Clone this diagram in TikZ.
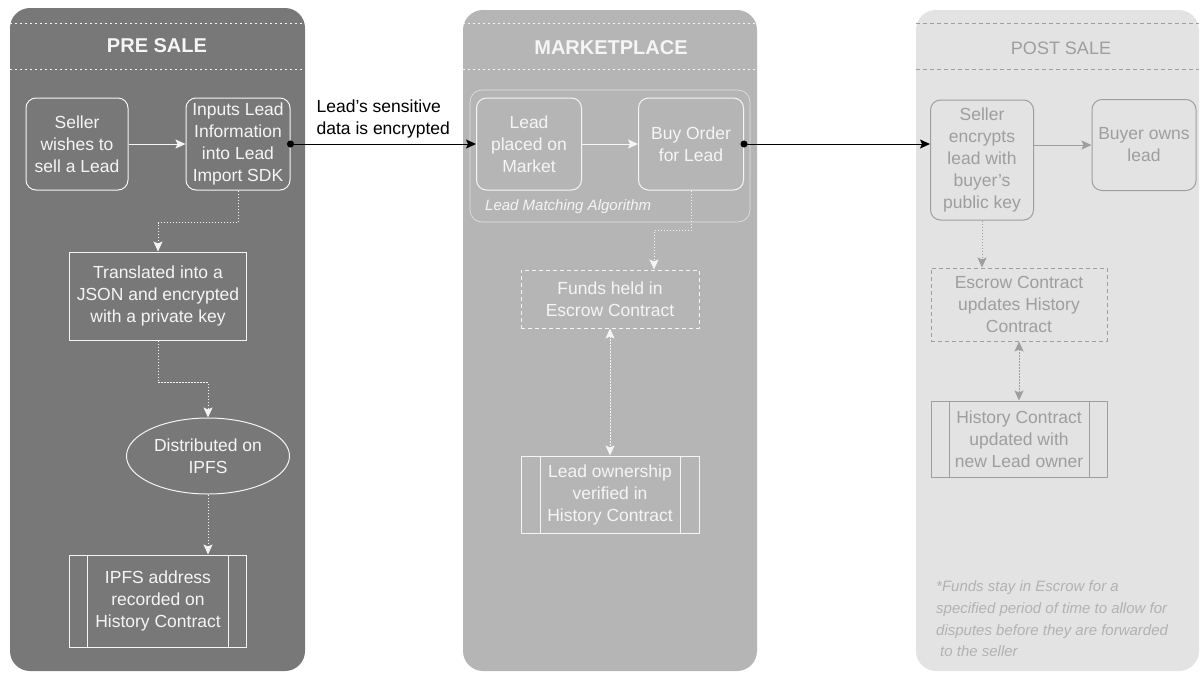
\documentclass[tikz,border=0pt]{standalone}
\usepackage{fontspec}
\setmainfont{Liberation Sans}
\usetikzlibrary{arrows.meta,shapes.geometric}

\definecolor{presale}{rgb}{0.47,0.47,0.47}
\definecolor{market}{rgb}{0.71,0.71,0.71}
\definecolor{postsale}{rgb}{0.89,0.89,0.89}
\definecolor{lightline}{rgb}{0.96,0.96,0.96}
\definecolor{darkline}{rgb}{0.62,0.62,0.62}
\definecolor{notegray}{rgb}{0.70,0.70,0.70}

\begin{document}
\begin{tikzpicture}[x=1pt,y=-1pt,
	every node/.style={font=\fontsize{17.5}{22}\selectfont, align=center, inner sep=0pt},
	rbox/.style={draw, rounded corners=10pt, line width=1pt},
	sbox/.style={draw, line width=1pt},
	dbox/.style={draw, line width=1pt, dash pattern=on 4pt off 3pt},
	ebox/.style={draw, ellipse, line width=1pt},
	gbox/.style={draw, draw opacity=0.7, rounded corners=12pt, line width=0.6pt},
	pbox/.style={draw, line width=1pt, path picture={
		\draw[line width=1pt] ([xshift=#1]path picture bounding box.north west) -- ([xshift=#1]path picture bounding box.south west);
		\draw[line width=1pt] ([xshift=-#1]path picture bounding box.north east) -- ([xshift=-#1]path picture bounding box.south east);}},
	pbox/.default=18pt,
	title/.style={font=\bfseries\fontsize{20}{24}\selectfont},
	lane/.style={line width=1pt, dash pattern=on 2pt off 3pt},
	solidarrow/.style={line width=1pt, -{Stealth[length=10pt,width=9pt,inset=2pt]}},
	dotarrow/.style={line width=1pt, dash pattern=on 1.5pt off 1.5pt, -{Stealth[length=10pt,width=9pt,inset=2pt]}},
	dotboth/.style={line width=1pt, dash pattern=on 1.5pt off 1.5pt, {Stealth[length=10pt,width=9pt,inset=2pt]}-{Stealth[length=10pt,width=9pt,inset=2pt]}},
	linkarrow/.style={black, line width=1pt, shorten <=-3.5pt, {Circle[length=7pt]}-{Stealth[length=10pt,width=9pt,inset=2pt]}}]

	\useasboundingbox (0,0) rectangle (1202,673);

	% lanes
	\fill[presale, rounded corners=20pt] (10,8) rectangle (305,671);
	\fill[market, rounded corners=20pt] (463,10) rectangle (757,671);
	\fill[postsale, rounded corners=20pt] (916,10) rectangle (1199,671);

	\draw[lane, lightline] (10,23) -- (305,23);
	\draw[lane, lightline] (10,69) -- (305,69);
	\draw[lane, lightline] (463,23) -- (757,23);
	\draw[lane, lightline] (463,69) -- (757,69);
	\draw[lane, darkline, dash pattern=on 4pt off 3pt] (916,23) -- (1199,23);
	\draw[lane, darkline, dash pattern=on 4pt off 3pt] (916,69) -- (1199,69);

	\node at (157,46) (t1) [title, lightline] {PRE SALE};
	\node at (611,48) (t2) [title, lightline] {MARKETPLACE};
	\node at (1061,48) (t3) [darkline, font=\fontsize{18}{22}\selectfont] {POST SALE};

	% pre sale
	\node at (77,144) (1) [rbox, lightline, minimum width=102, minimum height=92] {Seller\\wishes to\\sell a Lead};
	\node at (238,144) (2) [rbox, lightline, minimum width=104, minimum height=92] {Inputs Lead\\Information\\into Lead\\Import SDK};
	\node at (158,296) (3) [sbox, lightline, minimum width=177, minimum height=88] {Translated into a\\JSON and encrypted\\with a private key};
	\node at (208,456) (4) [ebox, lightline, minimum width=163, minimum height=76] {Distributed on\\IPFS};
	\node at (158,601) (5) [pbox, lightline, minimum width=177, minimum height=92] {IPFS address\\recorded on\\History Contract};

	\draw[solidarrow, lightline] (1.east) to (2.west);
	\draw[dotarrow, lightline] (2.south) -- ++(0,32) -| (3.north);
	\draw[dotarrow, lightline] (3.south) -- ++(0,42) -| (4.north);
	\draw[dotarrow, lightline] (4.south) to (4.south |- 5.north);

	% marketplace
	\node at (610,156) (7) [gbox, lightline, minimum width=280, minimum height=132] {};
	\node at (485,207) (7a) [anchor=west, lightline, font=\itshape\fontsize{15}{18}\selectfont] {Lead Matching Algorithm};
	\node at (529,144) (6) [rbox, lightline, minimum width=105, minimum height=92] {Lead\\placed on\\Market};
	\node at (691,144) (8) [rbox, lightline, minimum width=105, minimum height=92] {Buy Order\\for Lead};
	\node at (610,299) (9) [dbox, lightline, minimum width=178, minimum height=58] {Funds held in\\Escrow Contract};
	\node at (610,494.5) (10) [pbox=19pt, lightline, minimum width=178, minimum height=77] {Lead ownership\\verified in\\History Contract};

	\draw[solidarrow, lightline] (6.east) to (8.west);
	\draw[dotarrow, lightline] (8.south) -- ++(0,40) -| ([xshift=44]9.north);
	\draw[dotboth, lightline] (9.south) to (10.north);

	% post sale
	\node at (982,160) (11) [rbox, darkline, minimum width=103, minimum height=120] {Seller\\encrypts\\lead with\\buyer's\\public key};
	\node at (1144,145) (12) [rbox, darkline, minimum width=104, minimum height=91] {Buyer owns\\lead};
	\node at (1019,304.5) (13) [dbox, darkline, minimum width=176, minimum height=73] {Escrow Contract\\updates History\\Contract};
	\node at (1019,439) (14) [pbox, darkline, minimum width=176, minimum height=76] {History Contract\\updated with\\new Lead owner};
	\node at (936,619) (15) [anchor=west, align=left, notegray, font=\itshape\fontsize{15}{21.7}\selectfont] {*Funds stay in Escrow for a\\specified period of time to allow for\\disputes before they are forwarded\\\hspace{4pt}to the seller};

	\draw[solidarrow, darkline] (11.east |- 12.west) to (12.west);
	\draw[dotarrow, darkline] (11.south) to (11.south |- 13.north);
	\draw[dotboth, darkline] (13.south) to (14.north);

	% links between lanes
	\draw[linkarrow] (2.east) to node[above=5pt, align=left] {Lead's sensitive\\data is encrypted} (6.west);
	\draw[linkarrow] (8.east) to (8.east -| 11.west);
\end{tikzpicture}
\end{document}
